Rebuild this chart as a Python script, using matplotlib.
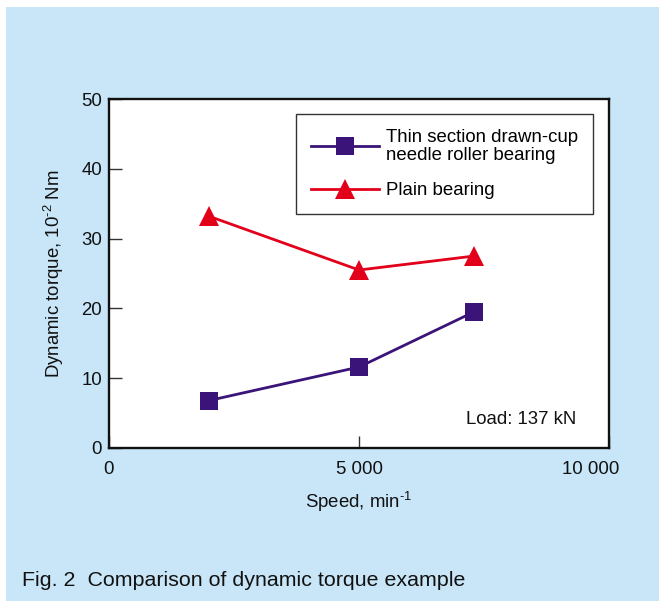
import matplotlib
matplotlib.use("Agg")
import matplotlib.pyplot as plt
from matplotlib.patches import Rectangle
from matplotlib.transforms import ScaledTranslation

plt.rcParams['font.family'] = ['Liberation Sans', 'DejaVu Sans']
plt.rcParams['mathtext.fontset'] = 'custom'
plt.rcParams['mathtext.rm'] = 'Liberation Sans'
plt.rcParams['mathtext.default'] = 'regular'

# Data
speed = [2000, 5000, 7300]
needle_torque = [6.8, 11.6, 19.5]
plain_torque = [33.2, 25.5, 27.5]
series_labels = ["Thin section drawn-cup\nneedle roller bearing", "Plain bearing"]
x_ticks = [0, 5000, 10000]
x_ticklabels = ["0", "5 000", "10 000"]
y_ticks = [0, 10, 20, 30, 40, 50]

BG = "#C8E6F8"
PURPLE = "#3A1478"
RED = "#E2001A"
FS = 13.4

fig = plt.figure(figsize=(6.59, 6.01), dpi=100)
fig.patch.set_facecolor("white")
fig.patches.append(Rectangle((6 / 659, 0), 1, 1 - 7 / 601, transform=fig.transFigure,
                             facecolor=BG, edgecolor="none", zorder=-10))

ax = fig.add_axes([109 / 659, 1 - 448 / 601, 500 / 659, 349 / 601])
ax.set_facecolor("white")

ax.plot(speed, needle_torque, color=PURPLE, lw=2.0, marker="s", ms=13,
        mec=PURPLE, mew=0, label=series_labels[0], zorder=3)
ax.plot(speed, plain_torque, color=RED, lw=2.0, marker="^", ms=15,
        mec=RED, mew=0, label=series_labels[1], zorder=3)

ax.set_xlim(0, 10000)
ax.set_ylim(0, 50)
ax.set_xticks(x_ticks)
ax.set_xticklabels(x_ticklabels)
ax.set_yticks(y_ticks)
ax.tick_params(axis="both", direction="in", length=9, width=1.0, color="#333333",
               labelsize=FS, labelcolor="#111111")
ax.tick_params(axis="x", pad=9)
ax.tick_params(axis="y", pad=5)
for s in ax.spines.values():
    s.set_linewidth(1.7)
    s.set_color("#111111")

# keep the last x label inside the panel: right-align it just past the spine
last = ax.get_xticklabels()[-1]
last.set_horizontalalignment("right")
last.set_transform(last.get_transform() + ScaledTranslation(10 / 100, 0, fig.dpi_scale_trans))

ax.set_xlabel("Speed, min$^{\\text{-}1}$", fontsize=FS, labelpad=9, color="#111111")
ax.set_ylabel("Dynamic torque, 10$^{\\text{-}2}$ Nm", fontsize=FS, labelpad=11, color="#111111")

leg = ax.legend(loc="upper right", bbox_to_anchor=(0.968, 0.957), borderaxespad=0,
                fontsize=FS, handlelength=3.7, handletextpad=0.35, borderpad=0.8,
                labelspacing=1.0, fancybox=False, framealpha=1, edgecolor="#333333")
leg.get_frame().set_linewidth(1.0)
for t in leg.get_texts():
    t.set_linespacing(1.05)

ax.text(0.935, 0.083, "Load: 137 kN", transform=ax.transAxes, ha="right", va="center",
        fontsize=FS, color="#111111")

fig.text(22 / 659, 1 - 581 / 601, "Fig. 2  Comparison of dynamic torque example",
         ha="left", va="center", fontsize=15.4, color="#111111")

fig.savefig("out.png", dpi=100, facecolor=fig.get_facecolor())
